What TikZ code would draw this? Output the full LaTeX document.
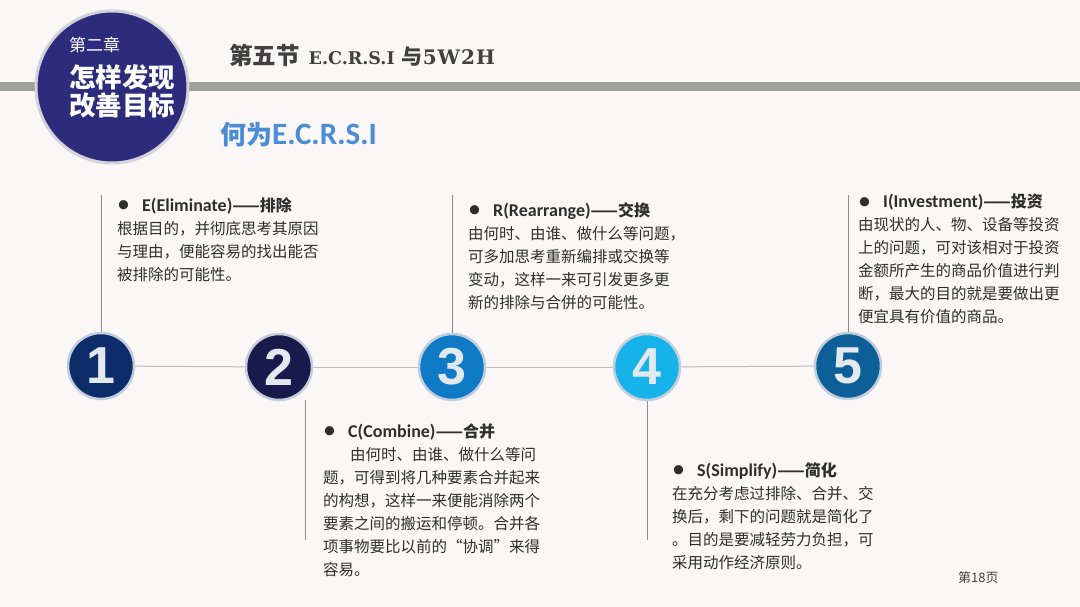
\documentclass[tikz,border=0pt]{standalone}
\usepackage{fontspec}
\setmainfont{Carlito}
\newfontfamily\cjk{Noto Sans CJK SC}
\newfontfamily\digitfont{Liberation Sans}
\newfontfamily\titleserif{DejaVu Serif}
\usepackage{xcolor}
\definecolor{bgpaper}{HTML}{FBF7F7}
\definecolor{chapblue}{HTML}{2C2B7C}
\definecolor{chapring}{HTML}{D2D2DA}
\definecolor{barg}{HTML}{A0A0A0}
\definecolor{titleg}{HTML}{404040}
\definecolor{subblue}{HTML}{4A8CD6}
\definecolor{bodyg}{HTML}{2E2E2E}
\definecolor{stemg}{HTML}{8C8C8C}
\definecolor{linkg}{HTML}{BDBDBD}
\definecolor{ringc}{HTML}{C3CEDD}
\definecolor{digitc}{HTML}{E4E9EF}
\definecolor{stepA}{HTML}{0C2C6A}
\definecolor{stepB}{HTML}{191A4C}
\definecolor{stepC}{HTML}{0F7BC6}
\definecolor{stepD}{HTML}{16B2EA}
\definecolor{stepE}{HTML}{0D5F98}
\usetikzlibrary{positioning}
\newcommand{\notehead}[2]{\makebox[25pt][l]{\raisebox{-1.5pt}{\fontsize{26}{20}\selectfont\rmfamily\textbullet}}%
  {\rmfamily\bfseries\fontsize{18}{23}\selectfont #1}{\bfseries\fontsize{16}{23}\selectfont ——#2}}

\begin{document}
\begin{tikzpicture}[x=1pt, y=-1pt,
  stepdisc/.style={circle, minimum size=66pt, inner sep=0pt, draw=ringc, line width=2.5pt,
    text=digitc, font=\digitfont\bfseries\fontsize{52}{52}\selectfont},
  stemline/.style={draw=stemg, line width=1pt},
  linkline/.style={draw=linkg, line width=1pt},
  notetext/.style={anchor=north west, align=left, inner sep=0pt, text=bodyg,
    font=\cjk\fontsize{15.5}{23}\selectfont}]
  \useasboundingbox (0,0) rectangle (1080,607);
  \fill[bgpaper] (0,0) rectangle (1080,607);
  % header bar and chapter disc
  \fill[barg] (0,82) rectangle (1080,91);
  \node[circle, minimum size=152pt, inner sep=0pt, fill=chapblue, draw=chapring, line width=3pt]
    (chap) at (112,87) {};
  \node[anchor=west, inner sep=0pt, text=white, font=\cjk\fontsize{17}{17}\selectfont] (chapno) at (69,45) {第二章};
  \node[anchor=west, inner sep=0pt, text=white, font=\cjk\bfseries\fontsize{26.5}{26.5}\selectfont] (chapa) at (69,77) {怎样发现};
  \node[anchor=west, inner sep=0pt, text=white, font=\cjk\bfseries\fontsize{26.5}{26.5}\selectfont] (chapb) at (69,105) {改善目标};
  % titles
  \node[anchor=west, inner sep=0pt, text=titleg] (title) at (229,55)
    {{\cjk\bfseries\fontsize{23.5}{24}\selectfont 第五节}\hspace{9pt}{\titleserif\bfseries\fontsize{17.5}{18}\selectfont E.C.R.S.I}\hspace{7pt}{\cjk\bfseries\fontsize{21}{21}\selectfont 与}{\titleserif\bfseries\addfontfeatures{LetterSpace=5}\fontsize{20}{20}\selectfont 5W2H}};
  \node[anchor=west, inner sep=0pt, text=subblue] (subtitle) at (220,135)
    {{\cjk\bfseries\fontsize{26}{26}\selectfont 何为}{\bfseries\fontsize{31}{31}\selectfont E.C.R.S.I}};
  % numbered discs
  \node[stepdisc, fill=stepA] (s1) at (101,366) {1};
  \node[stepdisc, fill=stepB] (s2) at (279,367) {2};
  \node[stepdisc, fill=stepC] (s3) at (452,367) {3};
  \node[stepdisc, fill=stepD] (s4) at (647,367) {4};
  \node[stepdisc, fill=stepE] (s5) at (848,366) {5};
  \draw[linkline] (s1) -- (s2);
  \draw[linkline] (s2) -- (s3);
  \draw[linkline] (s3) -- (s4);
  \draw[linkline] (s4) -- (s5);
  % stems
  \coordinate (etop) at (101,195);
  \coordinate (rtop) at (452,195);
  \coordinate (itop) at (848,195);
  \coordinate (ctop) at (305,400);
  \coordinate (cend) at (305,540);
  \coordinate (send) at (647,540);
  \draw[stemline] (etop) -- (s1);
  \draw[stemline] (rtop) -- (s3);
  \draw[stemline] (itop) -- (s5);
  \draw[stemline] (ctop) -- (cend);
  \draw[stemline] (s4) -- (send);
  % notes
  \node[notetext] (enote) at (117,197) {\notehead{E(Eliminate)}{排除}\\
    根据目的，并彻底思考其原因\\
    与理由，便能容易的找出能否\\
    被排除的可能性。};
  \node[notetext] (rnote) at (468,202) {\notehead{R(Rearrange)}{交换}\\
    由何时、由谁、做什么等问题，\\
    可多加思考重新编排或交换等\\
    变动，这样一来可引发更多更\\
    新的排除与合併的可能性。};
  \node[notetext] (inote) at (858,194) {\notehead{I(Investment)}{投资}\\
    由现状的人、物、设备等投资\\
    上的问题，可对该相对于投资\\
    金额所产生的商品价值进行判\\
    断，最大的目的就是要做出更\\
    便宜具有价值的商品。};
  \node[notetext] (cnote) at (323,423) {\notehead{C(Combine)}{合并}\\
    \hspace*{27pt}由何时、由谁、做什么等问\\
    题，可得到将几种要素合并起来\\
    的构想，这样一来便能消除两个\\
    要素之间的搬运和停顿。合并各\\
    项事物要比以前的“协调”来得\\
    容易。};
  \node[notetext] (snote) at (672,462) {\notehead{S(Simplify)}{简化}\\
    在充分考虑过排除、合并、交\\
    换后，剩下的问题就是简化了\\
    。目的是要减轻劳力负担，可\\
    采用动作经济原则。};
  \node[anchor=west, inner sep=0pt, text=titleg, font=\cjk\fontsize{13}{13}\selectfont] (pageno) at (958,578) {第18页};
\end{tikzpicture}
\end{document}
